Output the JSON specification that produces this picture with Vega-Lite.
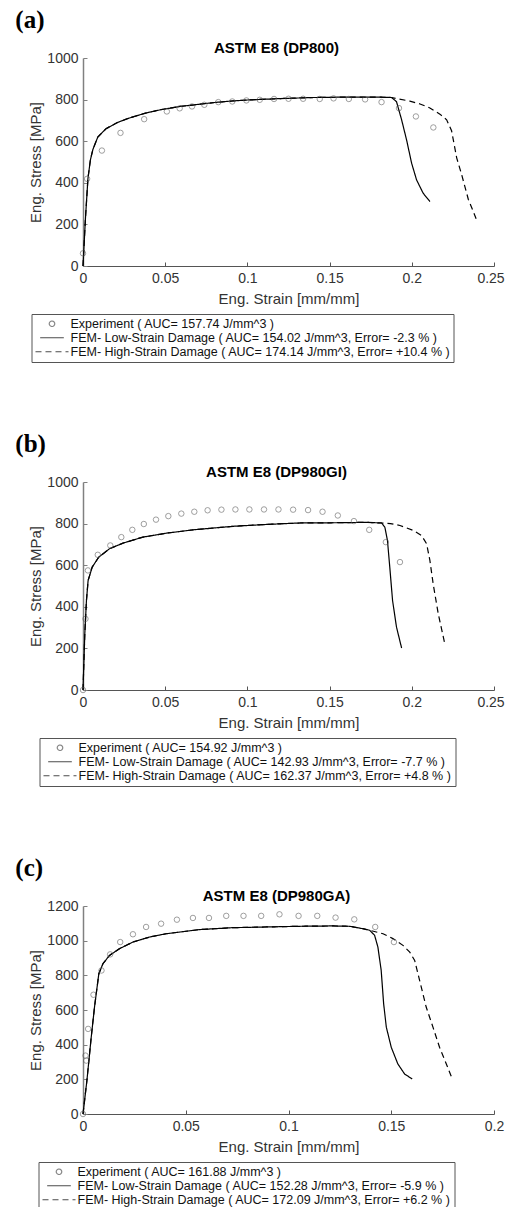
{
  "$schema": "https://vega.github.io/schema/vega-lite/v6.json",
  "padding": {"left": 15, "top": 8, "right": 0, "bottom": 0},
  "datasets": {
    "expA": [
      {"s":0,"t":61},{"s":0.0025,"t":419},{"s":0.0115,"t":555},{"s":0.0228,"t":640},{"s":0.0372,"t":706},{"s":0.051,"t":743},{"s":0.0588,"t":758},{"s":0.0663,"t":767},{"s":0.0738,"t":775},{"s":0.0823,"t":788},{"s":0.0908,"t":791},{"s":0.0994,"t":796},{"s":0.1075,"t":799},{"s":0.1162,"t":803},{"s":0.125,"t":804},{"s":0.1339,"t":804},{"s":0.144,"t":803},{"s":0.1524,"t":806},{"s":0.1617,"t":803},{"s":0.1716,"t":801},{"s":0.1816,"t":788},{"s":0.1922,"t":759},{"s":0.2025,"t":719},{"s":0.2131,"t":666}
    ],
    "lowA": [
      {"s":0,"t":0},{"s":0.0015,"t":230},{"s":0.003,"t":420},{"s":0.0045,"t":510},{"s":0.006,"t":560},{"s":0.009,"t":620},{"s":0.014,"t":660},{"s":0.021,"t":690},{"s":0.028,"t":711},{"s":0.038,"t":735},{"s":0.047,"t":751},{"s":0.059,"t":767},{"s":0.07,"t":777},{"s":0.08,"t":786},{"s":0.09,"t":793},{"s":0.1,"t":798},{"s":0.12,"t":805},{"s":0.14,"t":810},{"s":0.16,"t":812},{"s":0.18,"t":812},{"s":0.1877,"t":810},{"s":0.1907,"t":790},{"s":0.1938,"t":703},{"s":0.1968,"t":607},{"s":0.1999,"t":494},{"s":0.2029,"t":414},{"s":0.2069,"t":350},{"s":0.211,"t":310}
    ],
    "highA": [
      {"s":0,"t":0},{"s":0.0015,"t":230},{"s":0.003,"t":420},{"s":0.0045,"t":510},{"s":0.006,"t":560},{"s":0.009,"t":620},{"s":0.014,"t":660},{"s":0.021,"t":690},{"s":0.028,"t":711},{"s":0.038,"t":735},{"s":0.047,"t":751},{"s":0.059,"t":767},{"s":0.07,"t":777},{"s":0.08,"t":786},{"s":0.09,"t":793},{"s":0.1,"t":798},{"s":0.12,"t":805},{"s":0.14,"t":810},{"s":0.16,"t":812},{"s":0.18,"t":812},{"s":0.1877,"t":810},{"s":0.1907,"t":805},{"s":0.1988,"t":793},{"s":0.205,"t":779},{"s":0.211,"t":760},{"s":0.2171,"t":730},{"s":0.2212,"t":703},{"s":0.2242,"t":650},{"s":0.2273,"t":520},{"s":0.2303,"t":440},{"s":0.2344,"t":320},{"s":0.2374,"t":262},{"s":0.24,"t":209}
    ],
    "expB": [
      {"s":0,"t":0},{"s":0.0015,"t":342},{"s":0.003,"t":575},{"s":0.009,"t":650},{"s":0.0166,"t":695},{"s":0.0233,"t":735},{"s":0.03,"t":770},{"s":0.037,"t":798},{"s":0.0444,"t":819},{"s":0.0519,"t":836},{"s":0.0598,"t":848},{"s":0.0677,"t":857},{"s":0.0758,"t":864},{"s":0.0842,"t":867},{"s":0.0927,"t":868},{"s":0.1012,"t":868},{"s":0.1101,"t":868},{"s":0.1189,"t":868},{"s":0.1278,"t":867},{"s":0.1369,"t":865},{"s":0.1457,"t":857},{"s":0.155,"t":839},{"s":0.1648,"t":812},{"s":0.1741,"t":770},{"s":0.1842,"t":711},{"s":0.1928,"t":615}
    ],
    "lowB": [
      {"s":0,"t":0},{"s":0.0011,"t":270},{"s":0.0021,"t":430},{"s":0.0031,"t":526},{"s":0.0056,"t":591},{"s":0.0096,"t":639},{"s":0.0161,"t":679},{"s":0.0243,"t":706},{"s":0.0364,"t":735},{"s":0.0507,"t":754},{"s":0.0669,"t":770},{"s":0.0913,"t":787},{"s":0.1116,"t":796},{"s":0.1319,"t":803},{"s":0.1522,"t":804},{"s":0.1724,"t":806},{"s":0.1816,"t":803},{"s":0.1836,"t":783},{"s":0.1852,"t":719},{"s":0.1866,"t":591},{"s":0.1883,"t":430},{"s":0.1907,"t":302},{"s":0.1938,"t":202}
    ],
    "highB": [
      {"s":0,"t":0},{"s":0.0011,"t":270},{"s":0.0021,"t":430},{"s":0.0031,"t":526},{"s":0.0056,"t":591},{"s":0.0096,"t":639},{"s":0.0161,"t":679},{"s":0.0243,"t":706},{"s":0.0364,"t":735},{"s":0.0507,"t":754},{"s":0.0669,"t":770},{"s":0.0913,"t":787},{"s":0.1116,"t":796},{"s":0.1319,"t":803},{"s":0.1522,"t":804},{"s":0.1724,"t":806},{"s":0.1816,"t":803},{"s":0.187,"t":800},{"s":0.1928,"t":791},{"s":0.2009,"t":767},{"s":0.2059,"t":743},{"s":0.209,"t":703},{"s":0.211,"t":623},{"s":0.213,"t":510},{"s":0.2161,"t":366},{"s":0.2201,"t":221}
    ],
    "expC": [
      {"s":0,"t":0},{"s":0.0012,"t":337},{"s":0.0016,"t":308},{"s":0.0025,"t":491},{"s":0.0051,"t":688},{"s":0.009,"t":828},{"s":0.0132,"t":921},{"s":0.0181,"t":992},{"s":0.0243,"t":1037},{"s":0.0307,"t":1079},{"s":0.038,"t":1098},{"s":0.0457,"t":1121},{"s":0.0535,"t":1131},{"s":0.0613,"t":1131},{"s":0.0697,"t":1143},{"s":0.0781,"t":1143},{"s":0.0867,"t":1143},{"s":0.0956,"t":1152},{"s":0.1049,"t":1143},{"s":0.114,"t":1143},{"s":0.1229,"t":1133},{"s":0.132,"t":1123},{"s":0.1422,"t":1079},{"s":0.1513,"t":992}
    ],
    "lowC": [
      {"s":0,"t":0},{"s":0.0019,"t":193},{"s":0.004,"t":443},{"s":0.0056,"t":617},{"s":0.0077,"t":809},{"s":0.0097,"t":867},{"s":0.0129,"t":915},{"s":0.0178,"t":954},{"s":0.0243,"t":992},{"s":0.0324,"t":1021},{"s":0.0405,"t":1040},{"s":0.0567,"t":1064},{"s":0.0729,"t":1075},{"s":0.0892,"t":1079},{"s":0.1054,"t":1083},{"s":0.1216,"t":1085},{"s":0.1297,"t":1083},{"s":0.1362,"t":1069},{"s":0.1395,"t":1060},{"s":0.1419,"t":1031},{"s":0.1435,"t":963},{"s":0.1451,"t":829},{"s":0.1463,"t":636},{"s":0.1476,"t":501},{"s":0.15,"t":385},{"s":0.1532,"t":289},{"s":0.1565,"t":231},{"s":0.1602,"t":202}
    ],
    "highC": [
      {"s":0,"t":0},{"s":0.0019,"t":193},{"s":0.004,"t":443},{"s":0.0056,"t":617},{"s":0.0077,"t":809},{"s":0.0097,"t":867},{"s":0.0129,"t":915},{"s":0.0178,"t":954},{"s":0.0243,"t":992},{"s":0.0324,"t":1021},{"s":0.0405,"t":1040},{"s":0.0567,"t":1064},{"s":0.0729,"t":1075},{"s":0.0892,"t":1079},{"s":0.1054,"t":1083},{"s":0.1216,"t":1085},{"s":0.1297,"t":1083},{"s":0.1362,"t":1069},{"s":0.1395,"t":1060},{"s":0.146,"t":1040},{"s":0.1508,"t":1012},{"s":0.1557,"t":973},{"s":0.159,"t":934},{"s":0.1614,"t":886},{"s":0.1638,"t":771},{"s":0.167,"t":617},{"s":0.1703,"t":501},{"s":0.1735,"t":385},{"s":0.1768,"t":289},{"s":0.1797,"t":202}
    ]
  },
  "vconcat": [
    {
      "title": {"text": "(a)", "anchor": "start", "font": "Liberation Serif", "fontSize": 25, "fontWeight": "bold", "dx": -13.5, "offset": -12, "baseline": "alphabetic", "color": "#000"},
      "vconcat": [
        {
          "width": 411, "height": 208,
          "title": {"text": "ASTM E8 (DP800)"},
          "encoding": {
            "x": {"field": "s", "type": "quantitative", "scale": {"domain": [0, 0.25], "nice": false, "zero": false}, "axis": {"values": [0, 0.05, 0.1, 0.15, 0.2, 0.25], "title": "Eng. Strain [mm/mm]", "labelOffset": {"condition": {"test": "datum.value === 0.25", "value": -3.5}, "value": 0}}},
            "y": {"field": "t", "type": "quantitative", "scale": {"domain": [0, 1000], "nice": false}, "axis": {"values": [0, 200, 400, 600, 800, 1000], "title": "Eng. Stress [MPa]"}}
          },
          "layer": [
            {"data": {"name": "lowA"}, "mark": {"type": "line", "strokeWidth": 1.2},
             "encoding": {
               "strokeDash": {"datum": "FEM- Low-Strain Damage ( AUC= 154.02 J/mm^3, Error= -2.3 % )", "type": "nominal", "scale": {"domain": ["Experiment ( AUC= 157.74 J/mm^3 )", "FEM- Low-Strain Damage ( AUC= 154.02 J/mm^3, Error= -2.3 % )", "FEM- High-Strain Damage ( AUC= 174.14 J/mm^3, Error= +10.4 % )"], "range": [[1, 0], [1, 0], [6, 4]]}, "legend": {"title": null, "orient": "none", "legendX": -51.5, "legendY": 256}},
               "stroke": {"datum": "FEM- Low-Strain Damage ( AUC= 154.02 J/mm^3, Error= -2.3 % )", "type": "nominal", "scale": {"domain": ["Experiment ( AUC= 157.74 J/mm^3 )", "FEM- Low-Strain Damage ( AUC= 154.02 J/mm^3, Error= -2.3 % )", "FEM- High-Strain Damage ( AUC= 174.14 J/mm^3, Error= +10.4 % )"], "range": ["#555555", "#000000", "#000000"]}, "legend": {"title": null, "orient": "none", "legendX": -51.5, "legendY": 256}}
             }},
            {"data": {"name": "highA"}, "mark": {"type": "line", "strokeWidth": 1.2},
             "encoding": {
               "strokeDash": {"datum": "FEM- High-Strain Damage ( AUC= 174.14 J/mm^3, Error= +10.4 % )", "type": "nominal"},
               "stroke": {"datum": "FEM- High-Strain Damage ( AUC= 174.14 J/mm^3, Error= +10.4 % )", "type": "nominal"}
             }},
            {"data": {"name": "expA"}, "mark": {"type": "point", "filled": false, "strokeWidth": 0.8},
             "encoding": {
               "shape": {"datum": "Experiment ( AUC= 157.74 J/mm^3 )", "type": "nominal", "scale": {"domain": ["Experiment ( AUC= 157.74 J/mm^3 )", "FEM- Low-Strain Damage ( AUC= 154.02 J/mm^3, Error= -2.3 % )", "FEM- High-Strain Damage ( AUC= 174.14 J/mm^3, Error= +10.4 % )"], "range": ["circle", "stroke", "stroke"]}, "legend": {"title": null, "orient": "none", "legendX": -51.5, "legendY": 256}},
               "size": {"datum": "Experiment ( AUC= 157.74 J/mm^3 )", "type": "nominal", "scale": {"domain": ["Experiment ( AUC= 157.74 J/mm^3 )", "FEM- Low-Strain Damage ( AUC= 154.02 J/mm^3, Error= -2.3 % )", "FEM- High-Strain Damage ( AUC= 174.14 J/mm^3, Error= +10.4 % )"], "range": [30, 1089, 1089]}, "legend": {"title": null, "orient": "none", "legendX": -51.5, "legendY": 256}},
               "stroke": {"datum": "Experiment ( AUC= 157.74 J/mm^3 )", "type": "nominal"}
             }}
          ]
        }
      ]
    },
    {
      "title": {"text": "(b)", "anchor": "start", "font": "Liberation Serif", "fontSize": 25, "fontWeight": "bold", "dx": -13.5, "offset": -12, "baseline": "alphabetic", "color": "#000"},
      "vconcat": [
        {
          "width": 411, "height": 208,
          "title": {"text": "ASTM E8 (DP980GI)"},
          "encoding": {
            "x": {"field": "s", "type": "quantitative", "scale": {"domain": [0, 0.25], "nice": false, "zero": false}, "axis": {"values": [0, 0.05, 0.1, 0.15, 0.2, 0.25], "title": "Eng. Strain [mm/mm]", "labelOffset": {"condition": {"test": "datum.value === 0.25", "value": -3.5}, "value": 0}}},
            "y": {"field": "t", "type": "quantitative", "scale": {"domain": [0, 1000], "nice": false}, "axis": {"values": [0, 200, 400, 600, 800, 1000], "title": "Eng. Stress [MPa]"}}
          },
          "layer": [
            {"data": {"name": "lowB"}, "mark": {"type": "line", "strokeWidth": 1.2},
             "encoding": {
               "strokeDash": {"datum": "FEM- Low-Strain Damage ( AUC= 142.93 J/mm^3, Error= -7.7 % )", "type": "nominal", "scale": {"domain": ["Experiment ( AUC= 154.92 J/mm^3 )", "FEM- Low-Strain Damage ( AUC= 142.93 J/mm^3, Error= -7.7 % )", "FEM- High-Strain Damage ( AUC= 162.37 J/mm^3, Error= +4.8 % )"], "range": [[1, 0], [1, 0], [6, 4]]}, "legend": {"title": null, "orient": "none", "legendX": -43.5, "legendY": 256}},
               "stroke": {"datum": "FEM- Low-Strain Damage ( AUC= 142.93 J/mm^3, Error= -7.7 % )", "type": "nominal", "scale": {"domain": ["Experiment ( AUC= 154.92 J/mm^3 )", "FEM- Low-Strain Damage ( AUC= 142.93 J/mm^3, Error= -7.7 % )", "FEM- High-Strain Damage ( AUC= 162.37 J/mm^3, Error= +4.8 % )"], "range": ["#555555", "#000000", "#000000"]}, "legend": {"title": null, "orient": "none", "legendX": -43.5, "legendY": 256}}
             }},
            {"data": {"name": "highB"}, "mark": {"type": "line", "strokeWidth": 1.2},
             "encoding": {
               "strokeDash": {"datum": "FEM- High-Strain Damage ( AUC= 162.37 J/mm^3, Error= +4.8 % )", "type": "nominal"},
               "stroke": {"datum": "FEM- High-Strain Damage ( AUC= 162.37 J/mm^3, Error= +4.8 % )", "type": "nominal"}
             }},
            {"data": {"name": "expB"}, "mark": {"type": "point", "filled": false, "strokeWidth": 0.8},
             "encoding": {
               "shape": {"datum": "Experiment ( AUC= 154.92 J/mm^3 )", "type": "nominal", "scale": {"domain": ["Experiment ( AUC= 154.92 J/mm^3 )", "FEM- Low-Strain Damage ( AUC= 142.93 J/mm^3, Error= -7.7 % )", "FEM- High-Strain Damage ( AUC= 162.37 J/mm^3, Error= +4.8 % )"], "range": ["circle", "stroke", "stroke"]}, "legend": {"title": null, "orient": "none", "legendX": -43.5, "legendY": 256}},
               "size": {"datum": "Experiment ( AUC= 154.92 J/mm^3 )", "type": "nominal", "scale": {"domain": ["Experiment ( AUC= 154.92 J/mm^3 )", "FEM- Low-Strain Damage ( AUC= 142.93 J/mm^3, Error= -7.7 % )", "FEM- High-Strain Damage ( AUC= 162.37 J/mm^3, Error= +4.8 % )"], "range": [30, 1089, 1089]}, "legend": {"title": null, "orient": "none", "legendX": -43.5, "legendY": 256}},
               "stroke": {"datum": "Experiment ( AUC= 154.92 J/mm^3 )", "type": "nominal"}
             }}
          ]
        }
      ]
    },
    {
      "title": {"text": "(c)", "anchor": "start", "font": "Liberation Serif", "fontSize": 25, "fontWeight": "bold", "dx": -13.5, "offset": -12, "baseline": "alphabetic", "color": "#000"},
      "vconcat": [
        {
          "width": 411, "height": 208,
          "title": {"text": "ASTM E8 (DP980GA)"},
          "encoding": {
            "x": {"field": "s", "type": "quantitative", "scale": {"domain": [0, 0.2], "nice": false, "zero": false}, "axis": {"values": [0, 0.05, 0.1, 0.15, 0.2], "title": "Eng. Strain [mm/mm]"}},
            "y": {"field": "t", "type": "quantitative", "scale": {"domain": [0, 1200], "nice": false}, "axis": {"values": [0, 200, 400, 600, 800, 1000, 1200], "title": "Eng. Stress [MPa]"}}
          },
          "layer": [
            {"data": {"name": "lowC"}, "mark": {"type": "line", "strokeWidth": 1.2},
             "encoding": {
               "strokeDash": {"datum": "FEM- Low-Strain Damage ( AUC= 152.28 J/mm^3, Error= -5.9 % )", "type": "nominal", "scale": {"domain": ["Experiment ( AUC= 161.88 J/mm^3 )", "FEM- Low-Strain Damage ( AUC= 152.28 J/mm^3, Error= -5.9 % )", "FEM- High-Strain Damage ( AUC= 172.09 J/mm^3, Error= +6.2 % )"], "range": [[1, 0], [1, 0], [6, 4]]}, "legend": {"title": null, "orient": "none", "legendX": -44.5, "legendY": 256}},
               "stroke": {"datum": "FEM- Low-Strain Damage ( AUC= 152.28 J/mm^3, Error= -5.9 % )", "type": "nominal", "scale": {"domain": ["Experiment ( AUC= 161.88 J/mm^3 )", "FEM- Low-Strain Damage ( AUC= 152.28 J/mm^3, Error= -5.9 % )", "FEM- High-Strain Damage ( AUC= 172.09 J/mm^3, Error= +6.2 % )"], "range": ["#555555", "#000000", "#000000"]}, "legend": {"title": null, "orient": "none", "legendX": -44.5, "legendY": 256}}
             }},
            {"data": {"name": "highC"}, "mark": {"type": "line", "strokeWidth": 1.2},
             "encoding": {
               "strokeDash": {"datum": "FEM- High-Strain Damage ( AUC= 172.09 J/mm^3, Error= +6.2 % )", "type": "nominal"},
               "stroke": {"datum": "FEM- High-Strain Damage ( AUC= 172.09 J/mm^3, Error= +6.2 % )", "type": "nominal"}
             }},
            {"data": {"name": "expC"}, "mark": {"type": "point", "filled": false, "strokeWidth": 0.8},
             "encoding": {
               "shape": {"datum": "Experiment ( AUC= 161.88 J/mm^3 )", "type": "nominal", "scale": {"domain": ["Experiment ( AUC= 161.88 J/mm^3 )", "FEM- Low-Strain Damage ( AUC= 152.28 J/mm^3, Error= -5.9 % )", "FEM- High-Strain Damage ( AUC= 172.09 J/mm^3, Error= +6.2 % )"], "range": ["circle", "stroke", "stroke"]}, "legend": {"title": null, "orient": "none", "legendX": -44.5, "legendY": 256}},
               "size": {"datum": "Experiment ( AUC= 161.88 J/mm^3 )", "type": "nominal", "scale": {"domain": ["Experiment ( AUC= 161.88 J/mm^3 )", "FEM- Low-Strain Damage ( AUC= 152.28 J/mm^3, Error= -5.9 % )", "FEM- High-Strain Damage ( AUC= 172.09 J/mm^3, Error= +6.2 % )"], "range": [30, 1089, 1089]}, "legend": {"title": null, "orient": "none", "legendX": -44.5, "legendY": 256}},
               "stroke": {"datum": "Experiment ( AUC= 161.88 J/mm^3 )", "type": "nominal"}
             }}
          ]
        }
      ]
    }
  ],
  "spacing": 69,
  "resolve": {"scale": {"x": "independent", "y": "independent", "shape": "independent", "size": "independent", "strokeDash": "independent", "stroke": "independent"}, "legend": {"shape": "independent", "size": "independent", "strokeDash": "independent", "stroke": "independent"}},
  "config": {
    "view": {"stroke": null},
    "title": {"font": "Liberation Sans", "fontSize": 15, "fontWeight": "bold", "color": "#000", "baseline": "alphabetic", "offset": -5, "dx": -12},
    "axis": {"grid": false, "labelFont": "Liberation Sans", "labelFontSize": 14, "labelColor": "#333", "titleFont": "Liberation Sans", "titleFontSize": 15, "titleFontWeight": "normal", "titleColor": "#333", "tickSize": -4, "domainColor": "#555", "tickColor": "#555", "labelPadding": 9, "titlePadding": 6},
    "axisX": {"format": "~g", "labelFlush": false, "labelOverlap": false},
    "axisY": {"format": "d", "domainColor": "#808080", "tickColor": "#808080", "domainWidth": 1.5, "titlePadding": 3},
    "legend": {"labelFont": "Liberation Sans", "labelFontSize": 12.5, "labelColor": "#111", "labelLimit": 600, "strokeColor": "#555", "padding": 3, "rowPadding": 0, "clipHeight": 13.5, "symbolStrokeWidth": 1.2, "labelOffset": 1, "fillColor": "white"}
  }
}
